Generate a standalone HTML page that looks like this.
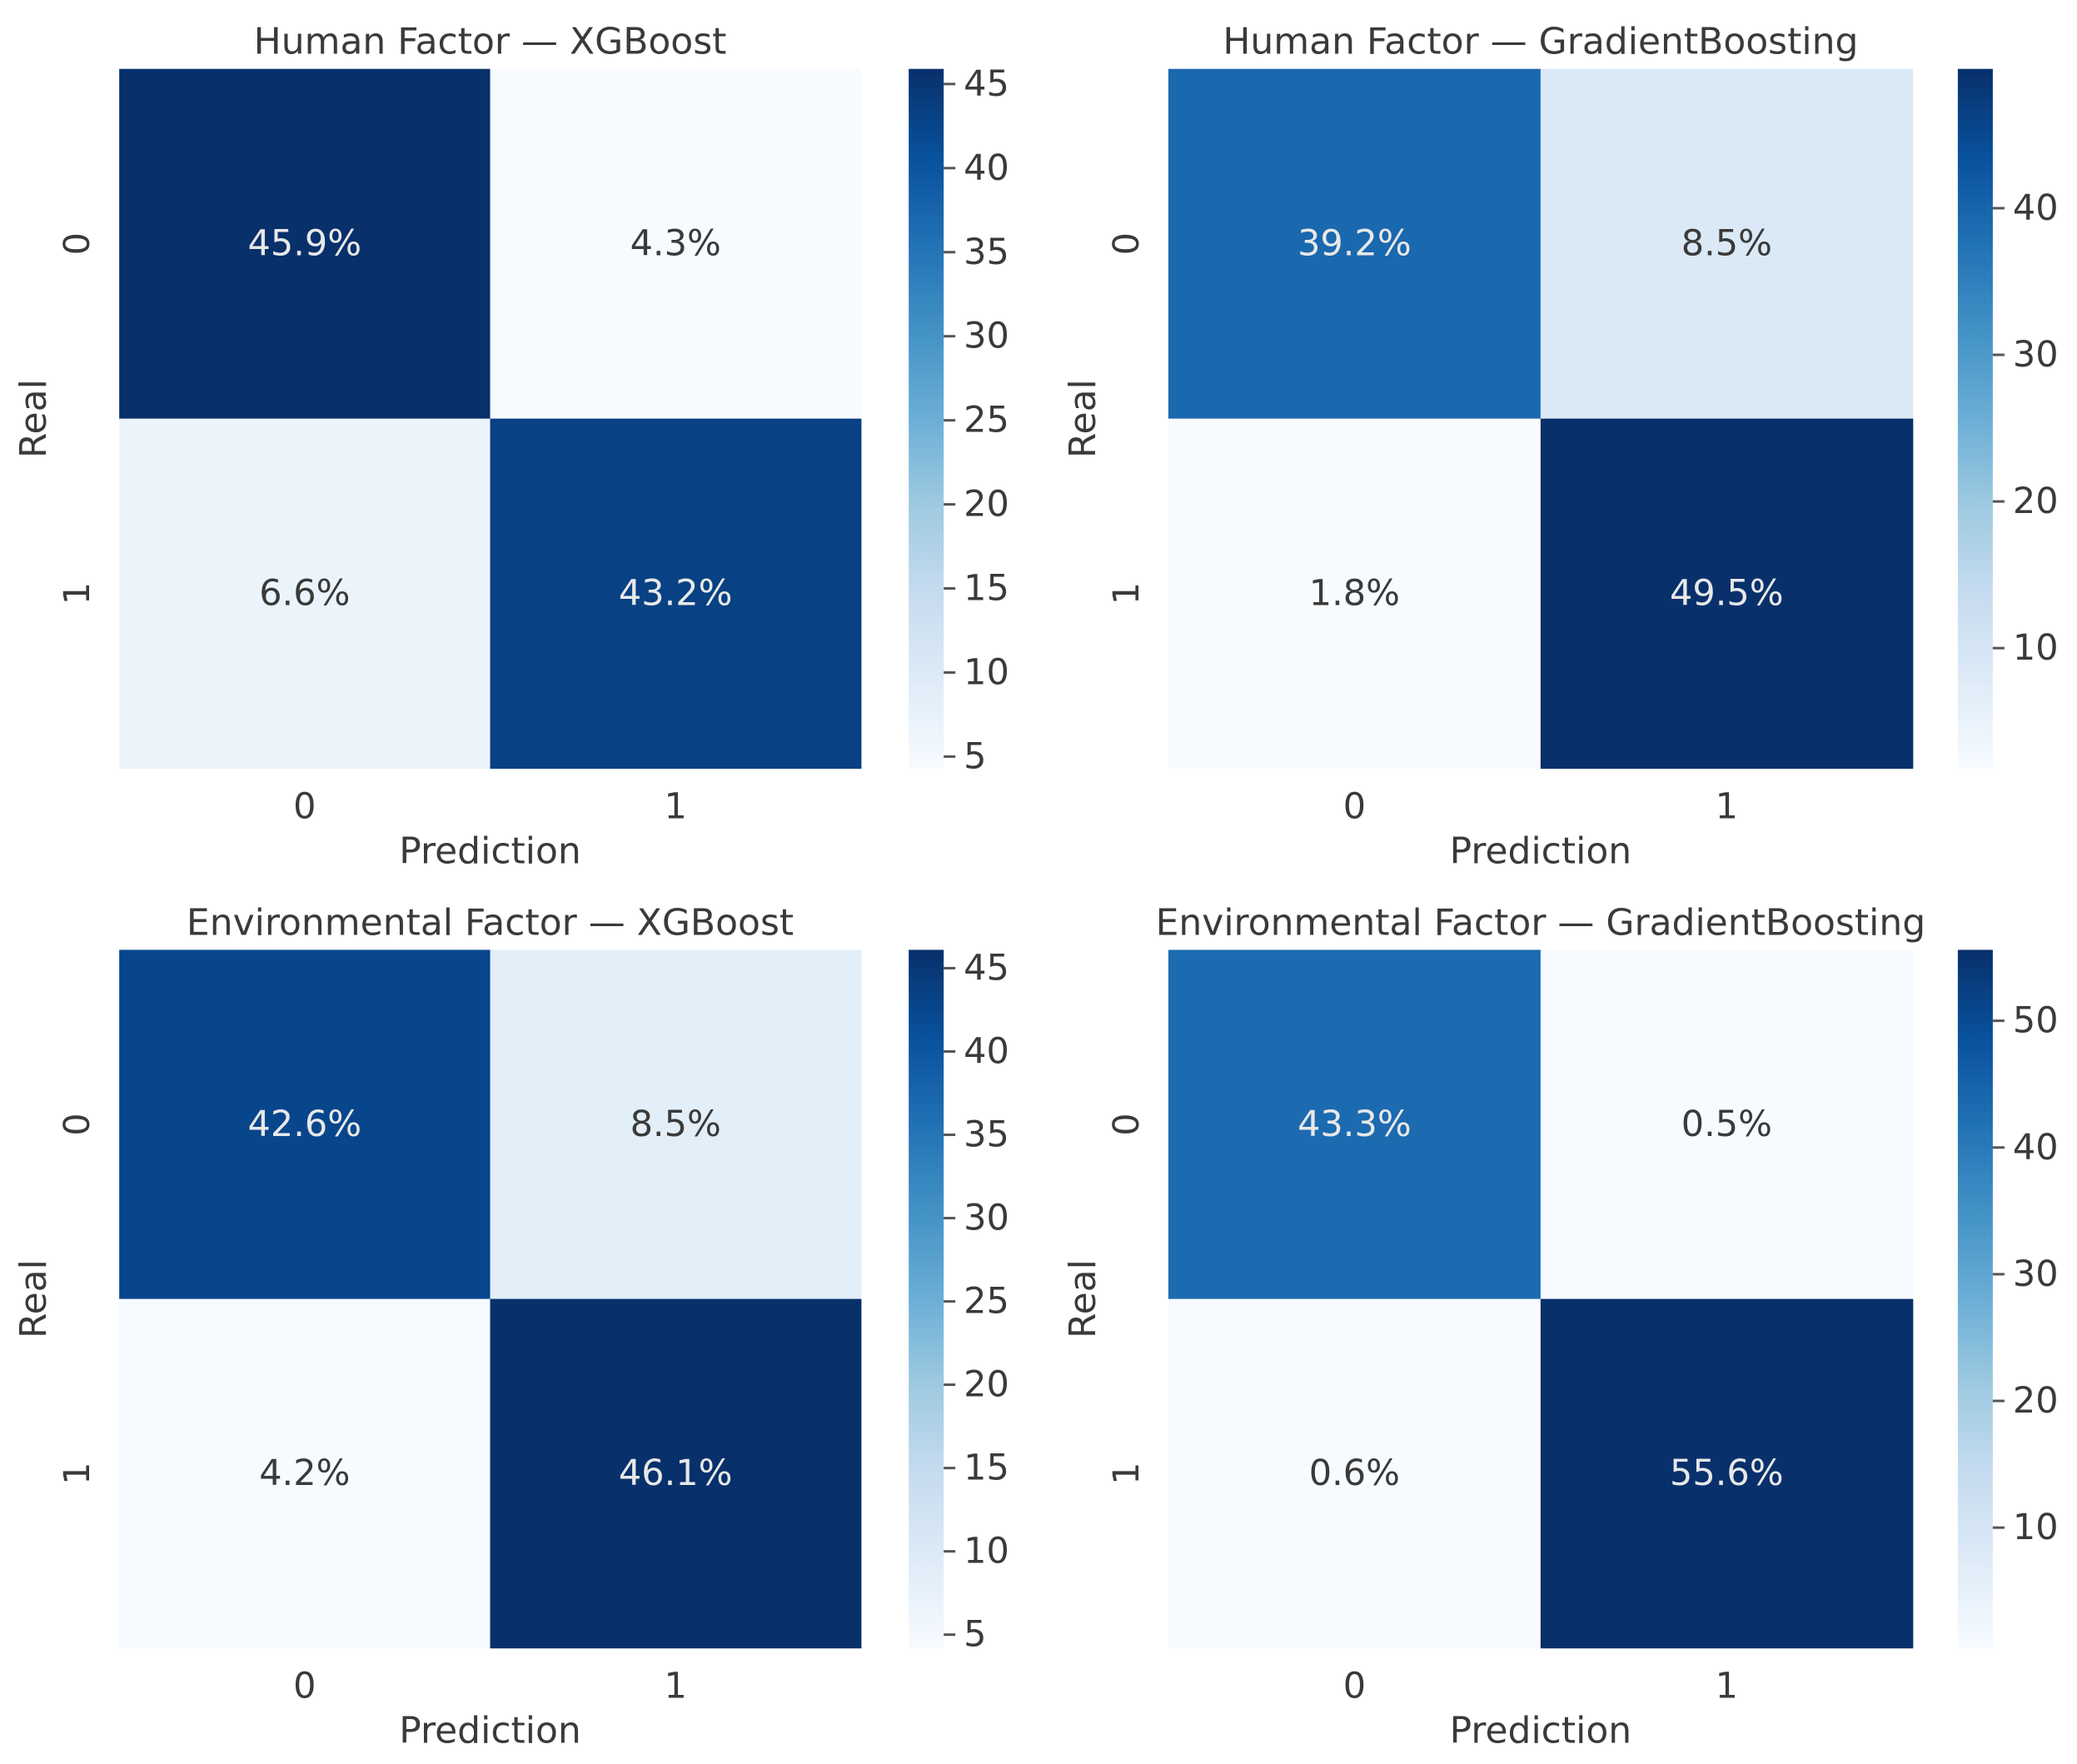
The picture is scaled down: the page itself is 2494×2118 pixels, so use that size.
<!DOCTYPE html>
<html><head><meta charset="utf-8"><style>
html,body{margin:0;padding:0;background:#fff;}
svg{display:block;font-family:"DejaVu Sans","Liberation Sans",sans-serif;}
</style></head><body>
<svg id="fig" width="2494" height="2118" viewBox="0 0 2494 2118" xmlns="http://www.w3.org/2000/svg"></svg>
<script>
const titles = ["Human Factor — XGBoost","Human Factor — GradientBoosting","Environmental Factor — XGBoost","Environmental Factor — GradientBoosting"];
const classLabels = ["0","1"];
const valsHX = [[45.9,4.3],[6.6,43.2]];
const valsHG = [[39.2,8.5],[1.8,49.5]];
const valsEX = [[42.6,8.5],[4.2,46.1]];
const valsEG = [[43.3,0.5],[0.6,55.6]];
const ticksHX = [5,10,15,20,25,30,35,40,45];
const ticksHG = [10,20,30,40];
const ticksEX = [5,10,15,20,25,30,35,40,45];
const ticksEG = [10,20,30,40,50];

const S = 1.5906;
const NS = "http://www.w3.org/2000/svg";
const svg = document.getElementById('fig');
const stops = ["#f7fbff","#deebf7","#c6dbef","#9ecae1","#6baed6","#4292c6","#2171b5","#08519c","#08306b"];
function hex(h){return [1,3,5].map(i=>parseInt(h.substr(i,2),16));}
function blues(t){t=Math.max(0,Math.min(1,t));const p=t*8;const i=Math.min(7,Math.floor(p));const f=p-i;const a=hex(stops[i]),b=hex(stops[i+1]);
 return "rgb("+a.map((v,k)=>Math.round(v+(b[k]-v)*f)).join(",")+")";}
function el(tag,attrs,parent){const e=document.createElementNS(NS,tag);for(const k in attrs)e.setAttribute(k,attrs[k]);(parent||svg).appendChild(e);return e;}
function txt(s,attrs,parent){const e=el('text',attrs,parent);e.textContent=s;return e;}

const panels = [
 {vals:valsHX,ticks:ticksHX,hx:90,cx:686,hy:52,name:'human-xgboost'},
 {vals:valsHG,ticks:ticksHG,hx:882,cx:1478,hy:52,name:'human-gradientboosting'},
 {vals:valsEX,ticks:ticksEX,hx:90,cx:686,hy:717,name:'environmental-xgboost'},
 {vals:valsEG,ticks:ticksEG,hx:882,cx:1478,hy:717,name:'environmental-gradientboosting'}
];
const FS = 43;
const TC = '#3a3a3a';
panels.forEach((p,pi)=>{
 const g = el('g',{});
 
 
 const x0=p.hx*S, w=(p.name.indexOf('gradient')>=0?562:560)*S, y0=p.hy*S, h=(pi<2?528:527)*S;
 const flat=p.vals.flat();const vmin=Math.min(...flat),vmax=Math.max(...flat);
 const cw=w/2, ch=h/2;
 p.vals.forEach((row,r)=>row.forEach((v,c)=>{
  const t=(v-vmin)/(vmax-vmin);
  const rect=el('rect',{x:x0+c*cw,y:y0+r*ch,width:cw+0.5,height:ch+0.5,fill:blues(t)},g);
  
  
  const tx=txt(v.toFixed(1)+'%',{x:x0+(c+0.5)*cw,y:y0+(r+0.5)*ch,'font-size':FS,'text-anchor':'middle','dominant-baseline':'central',fill:t>0.5?'#e8e8e8':TC},g);
  
  
 }));
 const tt=txt(titles[pi],{x:x0+w/2,y:y0-18,'font-size':FS+1,'text-anchor':'middle',fill:TC},g);
 
 
 classLabels.forEach((l,i)=>{
  const a=txt(l,{x:x0+(i+0.5)*cw,y:y0+h+60,'font-size':FS,'text-anchor':'middle',fill:TC},g);
  
  
  const yy=y0+(i+0.5)*ch, xx=x0-36;
  const b=txt(l,{x:xx,y:yy,'font-size':FS,'text-anchor':'middle',transform:'rotate(-90 '+xx+' '+yy+')',fill:TC},g);
  
  
 });
 const xl=txt('Prediction',{x:x0+w/2,y:y0+h+114,'font-size':FS+1,'text-anchor':'middle',fill:TC},g);
 
 
 const rx=x0-88, ry=y0+h/2;
 const yl=txt('Real',{x:rx,y:ry,'font-size':FS+1,'text-anchor':'middle',transform:'rotate(-90 '+rx+' '+ry+')',fill:TC},g);
 
 
 const cbx=p.cx*S, cbw=42;
 const gid='grad'+pi;
 const defs=el('defs',{},g);const lg=el('linearGradient',{id:gid,x1:0,y1:1,x2:0,y2:0},defs);
 stops.forEach((s,i)=>el('stop',{offset:i/8,'stop-color':s},lg));
 const cb=el('rect',{x:cbx,y:y0,width:cbw,height:h,fill:'url(#'+gid+')'},g);
 
 
 const ys=v=>y0+h-(v-vmin)/(vmax-vmin)*h;
 p.ticks.forEach(tv=>{
  const y=ys(tv);
  const ln=el('line',{x1:cbx+cbw,x2:cbx+cbw+14,y1:y,y2:y,stroke:'#555','stroke-width':3},g);
  
  
  const lb=txt(String(tv),{x:cbx+cbw+24,y:y,'font-size':FS,'dominant-baseline':'central',fill:TC},g);
  
  
 });
});
</script>
</body></html>
